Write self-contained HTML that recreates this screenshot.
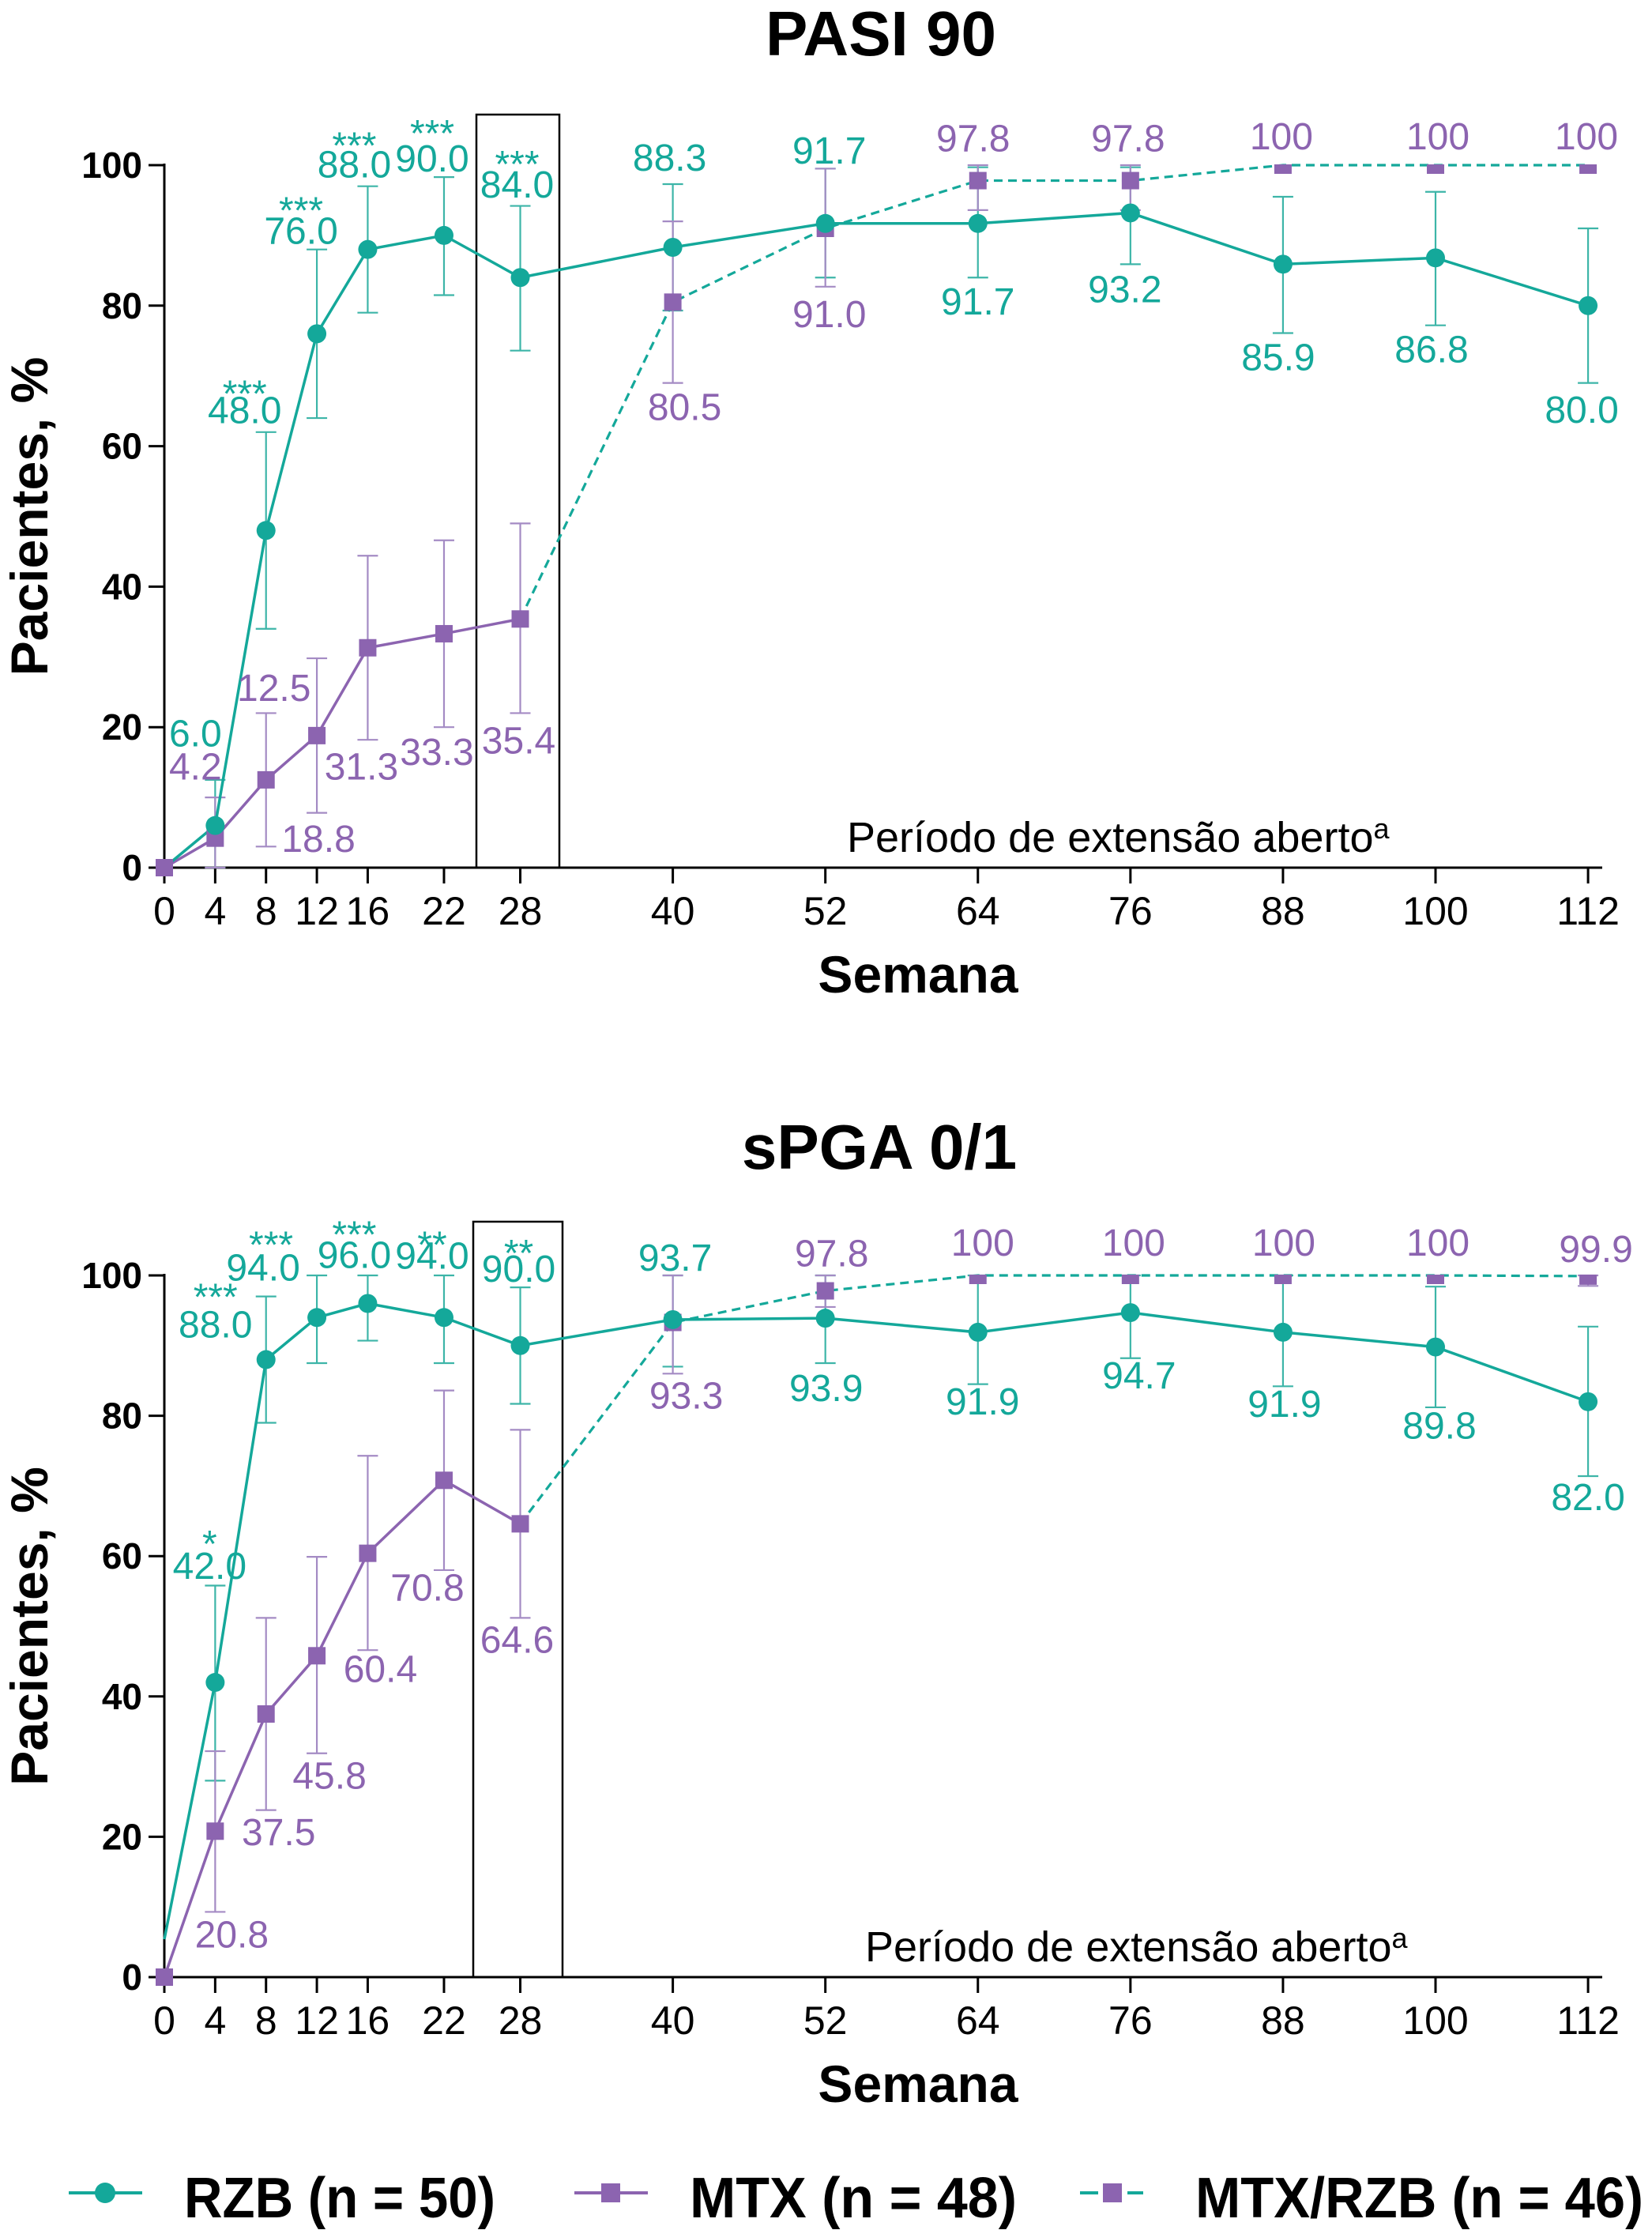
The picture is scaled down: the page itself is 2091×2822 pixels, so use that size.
<!DOCTYPE html>
<html><head><meta charset="utf-8">
<style>
html,body{margin:0;padding:0;background:#fff;}
svg{display:block;font-family:"Liberation Sans",Arial,sans-serif;}
</style></head>
<body>
<svg id="fig" width="2091" height="2822" viewBox="0 0 2091 2822" xmlns="http://www.w3.org/2000/svg">
<rect x="0" y="0" width="2091" height="2822" fill="#fff"/>
<text x="1115" y="70" font-size="80" font-weight="bold" text-anchor="middle">PASI 90</text>
<text x="1113" y="1479" font-size="80" font-weight="bold" text-anchor="middle">sPGA 0/1</text>
<g id="legend">
  <g>
    <line x1="87" y1="2775" x2="180" y2="2775" stroke="#14a89a" stroke-width="4"/>
    <circle cx="133" cy="2775" r="13" fill="#14a89a"/>
    <text x="233" y="2806" font-size="72" font-weight="bold" textLength="394" lengthAdjust="spacingAndGlyphs">RZB (n = 50)</text>
  </g>
  <g>
    <line x1="727" y1="2775" x2="820" y2="2775" stroke="#8c64b0" stroke-width="4"/>
    <rect x="761" y="2763" width="24" height="24" fill="#8c64b0"/>
    <text x="873" y="2806" font-size="72" font-weight="bold" textLength="414" lengthAdjust="spacingAndGlyphs">MTX (n = 48)</text>
  </g>
  <g>
    <line x1="1367" y1="2775" x2="1390" y2="2775" stroke="#14a89a" stroke-width="4"/>
    <line x1="1427" y1="2775" x2="1447" y2="2775" stroke="#14a89a" stroke-width="4"/>
    <rect x="1396" y="2763" width="24" height="24" fill="#8c64b0"/>
    <text x="1513" y="2806" font-size="72" font-weight="bold" textLength="567" lengthAdjust="spacingAndGlyphs">MTX/RZB (n = 46)</text>
  </g>
</g>
</svg>
<script>
const WEEKS=[0,4,8,12,16,22,28,40,52,64,76,88,100,112];
const MTX_WEEKS=[0,4,8,12,16,22,28];
const EXT_WEEKS=[28,40,52,64,76,88,100,112];
const Y_TICKS=[0,20,40,60,80,100];
const X_TICKS=[0,4,8,12,16,22,28,40,52,64,76,88,100,112];

// PASI 90
const pasiRzb=[0,6.0,48.0,76.0,88.0,90.0,84.0,88.3,91.7,91.7,93.2,85.9,86.8,80.0];
const pasiRzbLo=[0,0,34,64,79,81.5,73.6,79.3,84,84,85.9,76.1,77.2,69];
const pasiRzbHi=[0,12.5,62,88,97,98.3,94.2,97.3,99.5,99.7,99.7,95.5,96.2,91];
const pasiRzbStars=['','','***','***','***','***','***','','','','','','',''];
const pasiMtx=[0,4.2,12.5,18.8,31.3,33.3,35.4];
const pasiMtxLo=[0,0,3,7.8,18.2,20,22];
const pasiMtxHi=[0,10,22,29.8,44.4,46.6,49];
const pasiExt=[35.4,80.5,91.0,97.8,97.8,100,100,100];
const pasiExtLo=[35.4,69,82.7,93.6,93.6,100,100,100];
const pasiExtHi=[35.4,92,99.5,100,100,100,100,100];

// sPGA 0/1
const spgaRzb=[5.4,42.0,88.0,94.0,96.0,94.0,90.0,93.7,93.9,91.9,94.7,91.9,89.8,82.0];
const spgaRzbLo=[5.4,28,79,87.5,90.7,87.5,81.7,87,87.5,84.5,88.2,84.2,81.2,71.4];
const spgaRzbHi=[5.4,55.8,97,100,100,100,98.3,100,100,100,100,100,98.4,92.7];
const spgaRzbStars=['','*','***','***','***','**','**','','','','','','',''];
const spgaMtx=[0,20.8,37.5,45.8,60.4,70.8,64.6];
const spgaMtxLo=[0,9.3,23.8,31.9,46.6,58,51.2];
const spgaMtxHi=[0,32.2,51.2,59.9,74.3,83.6,78];
const spgaExt=[64.6,93.3,97.8,100,100,100,100,99.9];
const spgaExtLo=[64.6,86,95.5,100,100,100,100,98.5];
const spgaExtHi=[64.6,100,100,100,100,100,100,100];

// label layout offsets (px relative to marker) — layout, not data
const LAY={
 pasi:{
  rzb:[null,[-25,-100],[-27,-136],[-20,-114],[-17,-91],[-15,-81],[-4,-101],[-4,-97],[5,-76],[0,115],[-7,113],[-6,134],[-5,132],[-8,148]],
  rzbStar:[null,null,[-27,-157],[-20,-140],[-17,-115],[-15,-113],[-4,-127]],
  mtx:[null,[-25,-74],[10,-100],[2,147],[-8,167],[-9,166],[-2,170]],
  ext:[null,[15,149],[5,125],[-6,-37],[-3,-37],[-2,-20],[3,-20],[-2,-20]]
 },
 spga:{
  rzb:[null,[-7,-131],[-64,-28],[-68,-47],[-17,-45],[-15,-62],[-2,-81],[3,-62],[1,105],[6,104],[11,96],[2,107],[5,116],[0,137]],
  rzbStar:[null,[-7,-159],[-64,-63],[-58,-76],[-17,-71],[-15,-76],[-2,-101]],
  mtx:[null,[21,147],[16,166],[16,168],[16,163],[-21,152],[-4,163]],
  ext:[null,[17,109],[8,-31],[6,-25],[4,-25],[1,-25],[3,-25],[10,-18]]
 }
};

const TEAL='#14a89a', PURPLE='#8c64b0', PURPLE_L='#a48bc4', TEAL_L='#3db5a8';
const NS='http://www.w3.org/2000/svg';
const svg=document.getElementById('fig');
function mk(tag,attrs,parent){const e=document.createElementNS(NS,tag);for(const k in attrs)e.setAttribute(k,attrs[k]);(parent||svg).appendChild(e);return e;}
function fmt(v){return v===100?'100':v.toFixed(1);}

function drawChart(key,y0px,y100px,boxTop,boxX1,boxX2,perX,
  rzb,rzbLo,rzbHi,rzbStars,mtx,mtxLo,mtxHi,ext,extLo,extHi){
  const X0=208, PW=16.09;
  const xs=w=>X0+w*PW;
  const ys=v=>y0px-(y0px-y100px)*v/100;
  const lay=LAY[key];
  const g=mk('g',{});
  
  
  const cp=mk('clipPath',{id:key+'-clip'},g);
  mk('rect',{x:0,y:ys(100)-1,width:2091,height:y0px-ys(100)+40},cp);
  const box=mk('rect',{x:boxX1,y:boxTop,width:boxX2-boxX1,height:y0px-boxTop,fill:'none',stroke:'#000','stroke-width':2.5},g);
  
  
  const ya=mk('line',{x1:X0,y1:ys(100)-2,x2:X0,y2:y0px,stroke:'#000','stroke-width':3},g);
  
  
  const xa=mk('line',{x1:X0,y1:y0px,x2:2028,y2:y0px,stroke:'#000','stroke-width':3},g);
  
  
  Y_TICKS.forEach(t=>{
    mk('line',{x1:X0-20,y1:ys(t),x2:X0,y2:ys(t),stroke:'#000','stroke-width':3},g);
    const tx=mk('text',{x:180,y:ys(t)+16,'font-size':46,'font-weight':'bold','text-anchor':'end'},g);
    tx.textContent=t;
    
    
  });
  X_TICKS.forEach(t=>{
    mk('line',{x1:xs(t),y1:y0px,x2:xs(t),y2:y0px+20,stroke:'#000','stroke-width':3},g);
    const tx=mk('text',{x:xs(t),y:y0px+72,'font-size':50,'text-anchor':'middle'},g);
    tx.textContent=t;
    
    
  });
  const yt=mk('text',{transform:`translate(60,${(ys(100)+y0px)/2}) rotate(-90)`,'font-size':66,'font-weight':'bold','text-anchor':'middle'},g);
  yt.textContent='Pacientes, %';
  
  
  const xt=mk('text',{x:1162,y:y0px+158,'font-size':66,'font-weight':'bold','text-anchor':'middle'},g);
  xt.textContent='Semana';
  
  
  const pe=mk('text',{x:perX,y:y0px-20,'font-size':54},g);
  pe.textContent='Período de extensão aberto';
  const sup=mk('tspan',{'font-size':36,dy:-17},pe);
  sup.textContent='a';
  
  

  function errBars(weeks,lo,hi,color,name,start){
    for(let i=start;i<weeks.length;i++){
      if(hi[i]-lo[i]<0.5)continue;
      const x=xs(weeks[i]);
      const eg=mk('g',{stroke:color,'stroke-width':2.2,fill:'none'},g);
      
      
      mk('line',{x1:x,y1:ys(lo[i]),x2:x,y2:ys(hi[i])},eg);
      mk('line',{x1:x-13,y1:ys(lo[i]),x2:x+13,y2:ys(lo[i])},eg);
      mk('line',{x1:x-13,y1:ys(hi[i]),x2:x+13,y2:ys(hi[i])},eg);
    }
  }
  errBars(WEEKS,rzbLo,rzbHi,TEAL_L,'rzb',1);
  errBars(MTX_WEEKS,mtxLo,mtxHi,PURPLE_L,'mtx',1);
  errBars(EXT_WEEKS,extLo,extHi,PURPLE_L,'mtx-rzb',1);

  const extLine=mk('polyline',{points:EXT_WEEKS.map((w,i)=>xs(w)+','+ys(ext[i])).join(' '),fill:'none',stroke:TEAL,'stroke-width':3.2,'stroke-dasharray':'11 7'},g);
  
  
  const mtxLine=mk('polyline',{points:MTX_WEEKS.map((w,i)=>xs(w)+','+ys(mtx[i])).join(' '),fill:'none',stroke:PURPLE,'stroke-width':3.5},g);
  
  
  const rzbLine=mk('polyline',{points:WEEKS.map((w,i)=>xs(w)+','+ys(rzb[i])).join(' '),fill:'none',stroke:TEAL,'stroke-width':3.5},g);
  
  

  const clip=mk('g',{'clip-path':`url(#${key}-clip)`},g);
  EXT_WEEKS.forEach((w,i)=>{
    if(i===0)return;
    const r=mk('rect',{x:xs(w)-11,y:ys(ext[i])-11,width:22,height:22,fill:PURPLE},clip);
    
    
  });
  WEEKS.forEach((w,i)=>{
    if(i===0)return;
    const c=mk('circle',{cx:xs(w),cy:ys(rzb[i]),r:12,fill:TEAL},g);
    
    
  });
  MTX_WEEKS.forEach((w,i)=>{
    const r=mk('rect',{x:xs(w)-11,y:ys(mtx[i])-11,width:22,height:22,fill:PURPLE},clip);
    
    
  });

  function labels(weeks,vals,offs,color,name){
    weeks.forEach((w,i)=>{
      const o=offs[i]; if(!o)return;
      const t=mk('text',{x:xs(w)+o[0],y:ys(vals[i])+o[1],'font-size':48,fill:color,'text-anchor':'middle'},g);
      t.textContent=fmt(vals[i]);
      
      
    });
  }
  labels(WEEKS,rzb,lay.rzb,TEAL,'rzb');
  labels(MTX_WEEKS,mtx,lay.mtx,PURPLE,'mtx');
  labels(EXT_WEEKS,ext,lay.ext,PURPLE,'mtx-rzb');
  WEEKS.forEach((w,i)=>{
    const o=lay.rzbStar[i]; if(!o||!rzbStars[i])return;
    const t=mk('text',{x:xs(w)+o[0],y:ys(rzb[i])+o[1],'font-size':48,fill:TEAL,'text-anchor':'middle'},g);
    t.textContent=rzbStars[i];
    
    
  });
}

drawChart('pasi',1098,209,145,603,708,1072,
  pasiRzb,pasiRzbLo,pasiRzbHi,pasiRzbStars,pasiMtx,pasiMtxLo,pasiMtxHi,pasiExt,pasiExtLo,pasiExtHi);
drawChart('spga',2502,1614,1546,599,712,1095,
  spgaRzb,spgaRzbLo,spgaRzbHi,spgaRzbStars,spgaMtx,spgaMtxLo,spgaMtxHi,spgaExt,spgaExtLo,spgaExtHi);
</script>
</body></html>
